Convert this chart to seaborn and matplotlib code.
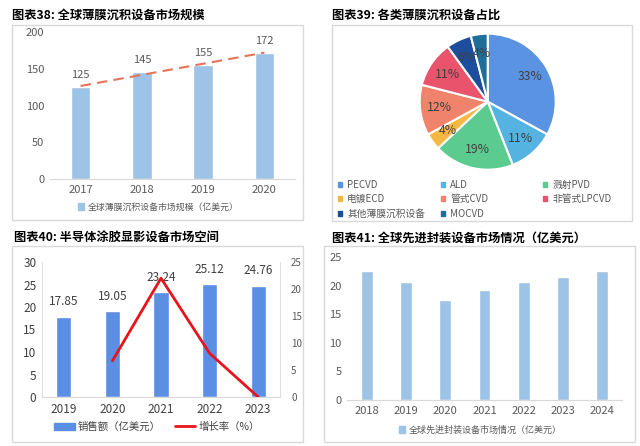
import matplotlib
matplotlib.use('Agg')
import numpy as np
import pandas as pd
import seaborn as sns
import matplotlib.pyplot as plt
from matplotlib.patches import Rectangle, Patch
from matplotlib.lines import Line2D

# ---------------- data ----------------
years_38 = ['2017', '2018', '2019', '2020']
market_38 = [125, 145, 155, 172]

pie_labels_39 = ['PECVD', 'ALD', '溅射PVD', '电镀ECD', '管式CVD', '非管式LPCVD', '其他薄膜沉积设备', 'MOCVD']
pie_values_39 = [33, 11, 19, 4, 12, 11, 6, 4]

years_40 = ['2019', '2020', '2021', '2022', '2023']
sales_40 = [17.85, 19.05, 23.24, 25.12, 24.76]
growth_40 = [np.nan, 6.7, 22.0, 8.1, 0.0]

years_41 = ['2018', '2019', '2020', '2021', '2022', '2023', '2024']
market_41 = [22.5, 20.6, 17.4, 19.3, 20.6, 21.5, 22.5]

# ---------------- style ----------------
sns.set_theme(style='white')
plt.rcParams['font.family'] = ['Noto Sans CJK SC', 'DejaVu Sans']
plt.rcParams['axes.unicode_minus'] = False

W, H = 640, 446
fig = plt.figure(figsize=(6.4, 4.46), dpi=100)


def rect(l, t, r, b):
    return [l / W, 1 - b / H, (r - l) / W, (b - t) / H]


def fx(x):
    return x / W


def fy(y):
    return 1 - y / H


# panel borders
for (l, t, r, b) in [(12, 25, 303, 220), (332, 25, 632, 221), (12, 246, 303, 442), (324, 246, 635, 442)]:
    fig.patches.append(Rectangle((l / W, 1 - b / H), (r - l) / W, (b - t) / H,
                                 transform=fig.transFigure, fill=False,
                                 edgecolor='#D9D9D9', lw=1))

title_kw = dict(fontsize=8.8, fontweight='bold', color='#000000', va='center', ha='left')
fig.text(fx(12), fy(15), '图表38: 全球薄膜沉积设备市场规模', **title_kw)
fig.text(fx(332), fy(15), '图表39: 各类薄膜沉积设备占比', **title_kw)
fig.text(fx(14), fy(238), '图表40: 半导体涂胶显影设备市场空间', **title_kw)
fig.text(fx(332), fy(238), '图表41: 全球先进封装设备市场情况（亿美元）', **title_kw)

light_blue = '#9DC3E6'
gray_txt = '#595959'


def style_axis(ax, color=gray_txt, size=8):
    ax.tick_params(axis='both', length=0, labelsize=size, labelcolor=color, pad=4)
    ax.set_xlabel('')
    ax.set_ylabel('')
    for s in ['top', 'right', 'left']:
        ax.spines[s].set_visible(False)
    ax.spines['bottom'].set_color('#D9D9D9')
    ax.spines['bottom'].set_linewidth(0.8)
    ax.patch.set_alpha(0)
    ax.grid(False)


# ---------------- panel 38 ----------------
ax1 = fig.add_axes(rect(50, 32, 295, 179))
sns.barplot(x=years_38, y=market_38, color=light_blue, saturation=1, width=0.32, ax=ax1)
idx = np.arange(len(market_38))
coef = np.polyfit(idx, market_38, 1)
ax1.plot(idx, np.polyval(coef, idx), ls=(0, (5, 3)), color='#E8735A', lw=1.5)
ax1.bar_label(ax1.containers[0], labels=[str(v) for v in market_38], padding=5,
              fontsize=8, color=gray_txt)
ax1.set_ylim(0, 200)
ax1.set_yticks([0, 50, 100, 150, 200])
ax1.set_xlim(-0.5, 3.5)
style_axis(ax1)
fig.legend(handles=[Patch(color=light_blue)], labels=['全球薄膜沉积设备市场规模（亿美元）'],
           loc='center', bbox_to_anchor=(fx(158), fy(207)), frameon=False,
           fontsize=6.4, handlelength=0.7, handleheight=0.7, handletextpad=0.4,
           labelcolor=gray_txt)

# ---------------- panel 39 ----------------
pie_colors = ['#5B93E3', '#55B3E2', '#5CCB90', '#F7B843', '#F0836B', '#E9536C', '#1D4E9E', '#1F6E98']
r = 68
cx, cy = 487.7, 101.7
ax2 = fig.add_axes(rect(cx - r, cy - r, cx + r, cy + r))
ax2.pie(pie_values_39, colors=pie_colors, startangle=90, counterclock=False,
        autopct=lambda p: f'{p:.0f}%', pctdistance=0.72,
        wedgeprops=dict(edgecolor='white', linewidth=1.5),
        textprops=dict(fontsize=8.8, color='#404040'))
ax2.set_xlim(-1, 1)
ax2.set_ylim(-1, 1)
ax2.set_aspect('equal')
# legend laid out as 3 columns, row-major like the reference
col_x = [336, 439, 541]
for c in range(3):
    ids = list(range(c, len(pie_labels_39), 3))
    fig.legend(handles=[Patch(color=pie_colors[i]) for i in ids],
               labels=[pie_labels_39[i] for i in ids],
               loc='upper left', bbox_to_anchor=(fx(col_x[c]), fy(178)),
               frameon=False, fontsize=7, handlelength=0.45, handleheight=0.45,
               handletextpad=0.5, labelspacing=0.45, borderpad=0.2, borderaxespad=0,
               labelcolor=gray_txt)

# ---------------- panel 40 ----------------
bar_blue = '#5B8FE3'
ax3 = fig.add_axes(rect(42, 262, 280, 397))
sns.barplot(x=years_40, y=sales_40, color=bar_blue, saturation=1, width=0.31, ax=ax3)
ax3.bar_label(ax3.containers[0], labels=[f'{v:.2f}' for v in sales_40], padding=6,
              fontsize=8.5, color='#404040')
ax3.set_ylim(0, 30)
ax3.set_yticks(range(0, 31, 5))
ax3.set_xlim(-0.45, 4.45)
style_axis(ax3, color='#404040', size=8.5)
ax3.spines['left'].set_visible(True)
ax3.spines['left'].set_color('#E0E0E0')
ax3.spines['left'].set_linewidth(0.8)
ax3b = ax3.twinx()
ax3b.plot(np.arange(len(years_40)), growth_40, color='#E8141B', lw=2)
ax3b.set_ylim(0, 25)
ax3b.set_yticks(range(0, 26, 5))
ax3b.tick_params(axis='y', length=0, labelsize=7, labelcolor=gray_txt, pad=8)
for s in ['top', 'left', 'bottom']:
    ax3b.spines[s].set_visible(False)
ax3b.spines['right'].set_color('#E0E0E0')
ax3b.spines['right'].set_linewidth(0.8)
ax3b.grid(False)
fig.legend(handles=[Patch(color=bar_blue), Line2D([], [], color='#E8141B', lw=2)],
           labels=['销售额（亿美元）', '增长率（%）'], ncol=2,
           loc='center', bbox_to_anchor=(fx(157), fy(427)), frameon=False,
           fontsize=7.5, handlelength=2.0, handleheight=0.7, handletextpad=0.3,
           columnspacing=1.3, labelcolor='#404040')

# ---------------- panel 41 ----------------
ax4 = fig.add_axes(rect(347, 257, 622, 400))
sns.barplot(x=years_41, y=market_41, color=light_blue, saturation=1, width=0.3, ax=ax4)
ax4.set_ylim(0, 25)
ax4.set_yticks(range(0, 26, 5))
ax4.set_xlim(-0.5, 6.5)
style_axis(ax4)
fig.legend(handles=[Patch(color=light_blue)], labels=['全球先进封装设备市场情况（亿美元）'],
           loc='center', bbox_to_anchor=(fx(480), fy(430)), frameon=False,
           fontsize=6.5, handlelength=0.7, handleheight=0.7, handletextpad=0.4,
           labelcolor=gray_txt)

fig.savefig('out.png', dpi=100)
